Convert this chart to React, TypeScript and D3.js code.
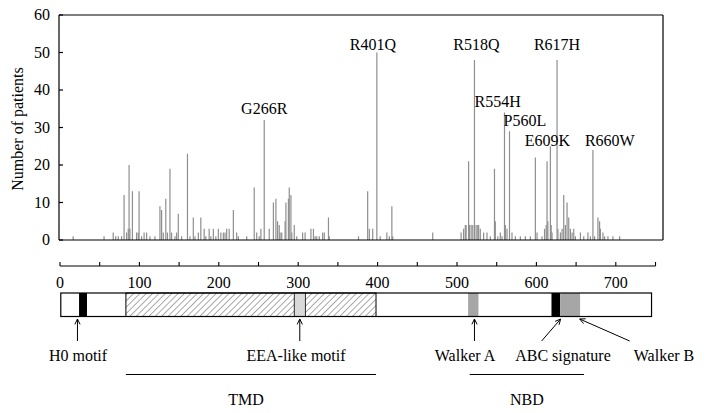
import React from 'react';
import * as d3 from 'd3';

// mutation positions (amino acid) and number of patients
const positions = [
  37, 74, 85, 88, 91, 95, 98, 101, 103, 104, 105, 108, 113, 115, 116, 119, 122, 125, 129, 135,
  141, 143, 145, 148, 150, 153, 155, 159, 161, 163, 167, 174, 177, 181, 183, 187, 190, 194, 196, 200,
  202, 205, 208, 211, 214, 217, 219, 221, 224, 229, 233, 235, 245, 254, 257, 260, 262, 266, 272, 277,
  280, 282, 284, 285, 287, 291, 292, 295, 296, 298, 299, 302, 305, 312, 315, 322, 325, 327, 329, 332,
  336, 338, 343, 344, 379, 390, 392, 396, 401, 405, 413, 416, 419, 420, 468, 502, 505, 507, 508, 511,
  512, 514, 516, 518, 520, 522, 523, 525, 529, 533, 537, 542, 543, 546, 549, 551, 554, 555, 557, 560,
  563, 567, 573, 579, 585, 591, 593, 599, 602, 604, 605, 606, 609, 610, 611, 617, 618, 621, 623, 625,
  627, 629, 631, 633, 635, 637, 639, 645, 649, 654, 657, 660, 662, 666, 668, 669, 672, 674, 678, 684,
  692,
];
const patients = [
  1, 1, 2, 1, 1, 1, 12, 2, 3, 20, 3, 13, 2, 2, 13, 1, 2, 2, 1, 1,
  9, 8, 2, 11, 2, 19, 2, 1, 2, 7, 1, 23, 1, 6, 1, 2, 6, 3, 1, 3,
  1, 3, 1, 3, 2, 2, 2, 3, 3, 8, 2, 1, 1, 14, 2, 1, 3, 32, 3, 10,
  11, 5, 4, 2, 2, 5, 10, 11, 14, 12, 2, 4, 1, 2, 2, 3, 3, 1, 1, 1,
  2, 2, 6, 1, 1, 13, 3, 3, 50, 1, 2, 1, 9, 1, 2, 2, 3, 4, 4, 21,
  4, 4, 4, 48, 4, 4, 4, 3, 2, 2, 1, 19, 5, 1, 2, 1, 34, 4, 3, 29,
  2, 1, 1, 1, 1, 22, 2, 1, 3, 4, 21, 5, 25, 4, 2, 48, 3, 2, 3, 12,
  4, 10, 6, 3, 2, 3, 1, 2, 1, 2, 1, 24, 1, 6, 5, 3, 2, 1, 1, 1,
  1,
];

const mutationNames = ['G266R', 'R401Q', 'R518Q', 'R554H', 'P560L', 'E609K', 'R617H', 'R660W'];
const mutationPos = [266, 401, 518, 554, 560, 609, 617, 660];

const yTicks = [0, 10, 20, 30, 40, 50, 60];
const protTicks = d3.range(0, 751, 50);
const protLabels = [0, 100, 200, 300, 400, 500, 600, 700];

// protein diagram (ABCD1, 745 aa)
const proteinLength = 745;
const tmd = [83, 398];
const nbd = [516, 660];
const motifNames = ['H0 motif', 'EEA-like motif', 'Walker A', 'ABC signature', 'Walker B'];
const motifStart = [24, 295, 514, 619, 630];
const motifEnd = [34, 309, 527, 630, 655];
const motifFill = ['#000', '#d9d9d9', '#a6a6a6', '#000', '#a6a6a6'];

// label placement (pixels)
const labelLayout: Record<string, { anchor: string; dx: number; dy: number }> = {
  G266R: { anchor: 'middle', dx: 0, dy: -6 },
  R401Q: { anchor: 'middle', dx: -4, dy: -3 },
  R518Q: { anchor: 'middle', dx: 2, dy: -10 },
  R554H: { anchor: 'start', dx: -30, dy: -6 },
  P560L: { anchor: 'start', dx: -6, dy: -5 },
  E609K: { anchor: 'middle', dx: -3, dy: 0 },
  R617H: { anchor: 'middle', dx: 0, dy: -10 },
  R660W: { anchor: 'start', dx: -8, dy: -4 },
};

const font = "'Liberation Serif', 'Times New Roman', serif";

export default function App() {
  const x = d3.scaleLinear().domain([20, 744]).range([59, 663]);
  const y = d3.scaleLinear().domain([0, 60]).range([240, 15]);
  const px = d3.scaleLinear().domain([0, 750]).range([60, 655.5]);

  const boxTop = 293;
  const boxBot = 316.5;
  const arrowTop = 319;
  const arrowBot = 341;

  const arrowHead = (tx: number, ty: number, fx: number, fy: number) => {
    const a = Math.atan2(fy - ty, fx - tx);
    const l = 6, w = 0.45;
    return `M${tx + l * Math.cos(a - w)},${ty + l * Math.sin(a - w)}L${tx},${ty}L${tx + l * Math.cos(a + w)},${ty + l * Math.sin(a + w)}`;
  };

  // arrows: [tipValue, tailX offset in px]
  const arrowTips = [22, 302, 522, 630.5, 654.5];
  const arrowTail = [0, 0, 0, -19, 50];
  const labelX = [78, 296, 465, 563, 664];

  return (
    <svg width={705} height={413} style={{ position: 'absolute', left: 0, top: 0, fontFamily: font }}>
      <defs>
        <pattern id="hatch" patternUnits="userSpaceOnUse" width={4.5} height={4.5} patternTransform="rotate(45)">
          <line x1={0} y1={0} x2={0} y2={4.5} stroke="#444" strokeWidth={0.9} />
        </pattern>
      </defs>

      {/* bars */}
      <g>
        {positions.map((p, i) => (
          <rect key={i} x={x(p) - 0.6} y={y(patients[i])} width={1.2} height={y(0) - y(patients[i])} fill="#8f8f8f" />
        ))}
      </g>

      {/* frame */}
      <g stroke="#000" fill="none" strokeWidth={1.2}>
        <line x1={59} y1={15} x2={663} y2={15} />
        <line x1={663} y1={15} x2={663} y2={240} />
        <line x1={59} y1={240} x2={663} y2={240} />
        <line x1={59} y1={15} x2={59} y2={240} />
        {yTicks.map((t) => (
          <line key={t} x1={59} x2={63} y1={y(t)} y2={y(t)} />
        ))}
      </g>
      {yTicks.map((t) => (
        <text key={t} x={50} y={y(t) + 5} textAnchor="end" fontSize={16}>
          {t}
        </text>
      ))}
      <text transform="translate(23,129) rotate(-90)" textAnchor="middle" fontSize={16}>
        Number of patients
      </text>

      {/* mutation labels */}
      {mutationNames.map((n, i) => {
        const idx = positions.indexOf(mutationPos[i]);
        const lay = labelLayout[n];
        return (
          <text key={n} x={x(mutationPos[i]) + lay.dx} y={y(patients[idx]) + lay.dy} textAnchor={lay.anchor} fontSize={16}>
            {n}
          </text>
        );
      })}

      {/* protein axis */}
      <g stroke="#000" strokeWidth={1.1}>
        <line x1={px(0)} x2={px(750)} y1={266} y2={266} />
        {protTicks.map((t) => (
          <line key={t} x1={px(t)} x2={px(t)} y1={262} y2={266} />
        ))}
      </g>
      {protLabels.map((t) => (
        <text key={t} x={px(t)} y={288} textAnchor="middle" fontSize={16}>
          {t}
        </text>
      ))}

      {/* protein box */}
      <rect x={px(1)} y={boxTop} width={px(proteinLength) - px(1)} height={boxBot - boxTop} fill="#fff" />
      <rect x={px(tmd[0])} y={boxTop} width={px(tmd[1]) - px(tmd[0])} height={boxBot - boxTop} fill="url(#hatch)" stroke="#000" strokeWidth={1} />
      {motifNames.map((n, i) => (
        <rect key={n} x={px(motifStart[i])} y={boxTop} width={px(motifEnd[i]) - px(motifStart[i])} height={boxBot - boxTop} fill={motifFill[i]} stroke={i === 1 ? '#000' : 'none'} strokeWidth={0.8} />
      ))}
      <rect x={px(1)} y={boxTop} width={px(proteinLength) - px(1)} height={boxBot - boxTop} fill="none" stroke="#000" strokeWidth={1.2} />

      {/* arrows and motif labels */}
      {motifNames.map((n, i) => {
        const tx = px(arrowTips[i]);
        const fx = tx + arrowTail[i];
        return (
          <g key={n}>
            <line x1={fx} y1={arrowBot} x2={tx} y2={arrowTop} stroke="#000" strokeWidth={1} />
            <path d={arrowHead(tx, arrowTop, fx, arrowBot)} stroke="#000" strokeWidth={1} fill="none" />
            <text x={labelX[i]} y={361} textAnchor="middle" fontSize={16}>
              {n}
            </text>
          </g>
        );
      })}

      {/* domains */}
      <g stroke="#000" strokeWidth={1.1}>
        <line x1={px(tmd[0])} x2={px(tmd[1])} y1={374.5} y2={374.5} />
        <line x1={px(nbd[0])} x2={px(nbd[1])} y1={374.5} y2={374.5} />
      </g>
      <text x={(px(tmd[0]) + px(tmd[1])) / 2 - 5} y={405} textAnchor="middle" fontSize={16}>
        TMD
      </text>
      <text x={(px(nbd[0]) + px(nbd[1])) / 2} y={405} textAnchor="middle" fontSize={16}>
        NBD
      </text>
    </svg>
  );
}
